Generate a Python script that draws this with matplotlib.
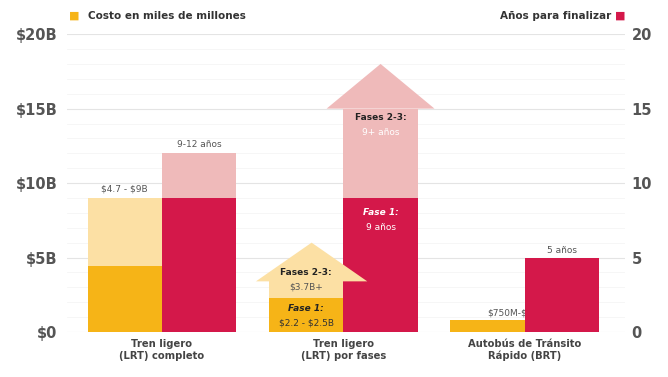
import numpy as np
import matplotlib
matplotlib.use("Agg")
import matplotlib.pyplot as plt
from matplotlib.patches import Polygon

# data
categories = ["Tren ligero\n(LRT) completo", "Tren ligero\n(LRT) por fases",
              "Autobús de Tránsito\nRápido (BRT)"]
cost_low = [4.4, 2.3, 0.8]      # billions, solid part
cost_high = [9.0, 3.4, 0.8]     # billions, light part top
cost_arrow_tip = 6.0            # phased LRT, open ended
years_low = [9, 9, 5]
years_high = [12, 15, 5]
years_arrow_tip = 18
cost_labels = ["\\$4.7 - \\$9B", None, "\\$750M-\\$1B"]
year_labels = ["9-12 años", None, "5 años"]

yellow = "#F6B417"
yellow_l = "#FCE0A4"
red = "#D4184A"
red_l = "#EFBABA"
txt = "#555555"

fig = plt.figure(figsize=(6.68, 3.77), dpi=100)
ax = fig.add_axes([0.1003, 0.1194, 0.835, 0.790])
ax2 = ax.twinx()

x = np.arange(len(categories))
w = 0.41
xc = x - w / 2   # cost bars
xy = x + w / 2   # years bars

# cost bars
ax.bar(xc, cost_low, w, color=yellow, zorder=3)
ext = np.array(cost_high) - np.array(cost_low)
ax.bar(xc, ext, w, bottom=cost_low, color=yellow_l, zorder=3)

# years bars
ax.bar(xy, years_low, w, color=red, zorder=4)
ext = np.array(years_high) - np.array(years_low)
ax.bar(xy, ext, w, bottom=years_low, color=red_l, zorder=4)

# arrow heads for the phased option
hw = w / 2 * 1.45
i = 1
ax.add_patch(Polygon([(xy[i] - hw, years_high[i]), (xy[i], years_arrow_tip),
                      (xy[i] + hw, years_high[i])], closed=True,
                     color=red_l, lw=0, zorder=4))
hw = w / 2 * 1.35
ax.add_patch(Polygon([(xc[i] - hw, cost_high[i]), (xc[i] + 0.03, cost_arrow_tip),
                      (xc[i] + hw + 0.06, cost_high[i])], closed=True,
                     color=yellow_l, lw=0, zorder=5))

# labels above bars
ax.text(xc[0], cost_high[0] + 0.3, cost_labels[0], ha="center", va="bottom",
        fontsize=6.5, color=txt, zorder=6)
ax.text(xy[0], years_high[0] + 0.3, year_labels[0], ha="center", va="bottom",
        fontsize=6.5, color=txt, zorder=6)
ax.text(xc[2] + 0.14, cost_high[2] + 0.2, cost_labels[2], ha="center", va="bottom",
        fontsize=6.5, color=txt, zorder=3.5)
ax.text(xy[2], years_high[2] + 0.2, year_labels[2], ha="center", va="bottom",
        fontsize=6.5, color=txt, zorder=6)

# phased annotations
ax.text(xc[1], 4.0, "Fases 2-3:", ha="center", va="center", fontsize=6.5,
        fontweight="bold", color="#222222", zorder=6)
ax.text(xc[1], 3.0, "\\$3.7B+", ha="center", va="center", fontsize=6.5,
        color=txt, zorder=6)
ax.text(xc[1], 1.6, "Fase 1:", ha="center", va="center", fontsize=6.5,
        fontweight="bold", style="italic", color="#222222", zorder=6)
ax.text(xc[1], 0.6, "\\$2.2 - \\$2.5B", ha="center", va="center", fontsize=6.5,
        color="#333333", zorder=6)
ax.text(xy[1], 14.4, "Fases 2-3:", ha="center", va="center", fontsize=6.5,
        fontweight="bold", color="#222222", zorder=6)
ax.text(xy[1], 13.4, "9+ años", ha="center", va="center", fontsize=6.5,
        color="white", zorder=6)
ax.text(xy[1], 8.05, "Fase 1:", ha="center", va="center", fontsize=6.5,
        fontweight="bold", style="italic", color="white", zorder=6)
ax.text(xy[1], 7.0, "9 años", ha="center", va="center", fontsize=6.5,
        color="white", zorder=6)

# axes styling
ax.set_xlim(-0.523, 2.551)
ax.set_ylim(0, 20)
ax2.set_ylim(0, 20)
ax.set_yticks([0, 5, 10, 15, 20])
ax.set_yticklabels(["\\$0", "\\$5B", "\\$10B", "\\$15B", "\\$20B"])
ax2.set_yticks([0, 5, 10, 15, 20])
ax.set_yticks(np.arange(0, 21, 1), minor=True)
ax.grid(axis="y", which="major", color="#e4e4e4", lw=0.8, zorder=0)
ax.grid(axis="y", which="minor", color="#f5f5f5", lw=0.6, zorder=0)
ax.set_xticks(x)
ax.set_xticklabels(categories)
for a in (ax, ax2):
    for s in a.spines.values():
        s.set_visible(False)
ax.tick_params(axis="y", which="both", length=0, pad=7, labelsize=10.5, labelcolor=txt)
ax2.tick_params(axis="y", which="both", length=0, pad=5, labelsize=10.5, labelcolor=txt)
ax.tick_params(axis="x", length=0, pad=5, labelsize=7.2, labelcolor="#444444")
for t in ax.get_xticklabels():
    t.set_fontweight("bold")
for t in ax.get_yticklabels() + ax2.get_yticklabels():
    t.set_fontweight("bold")

# legend headers
fig.text(0.103, 0.958, "■", color=yellow, fontsize=8, va="center")
fig.text(0.131, 0.958, "Costo en miles de millones", fontsize=7.5,
         fontweight="bold", color="#333333", va="center")
fig.text(0.915, 0.958, "Años para finalizar", fontsize=7.5, fontweight="bold",
         color="#333333", va="center", ha="right")
fig.text(0.92, 0.958, "■", color=red, fontsize=8, va="center")

fig.savefig("out.png", dpi=100)
